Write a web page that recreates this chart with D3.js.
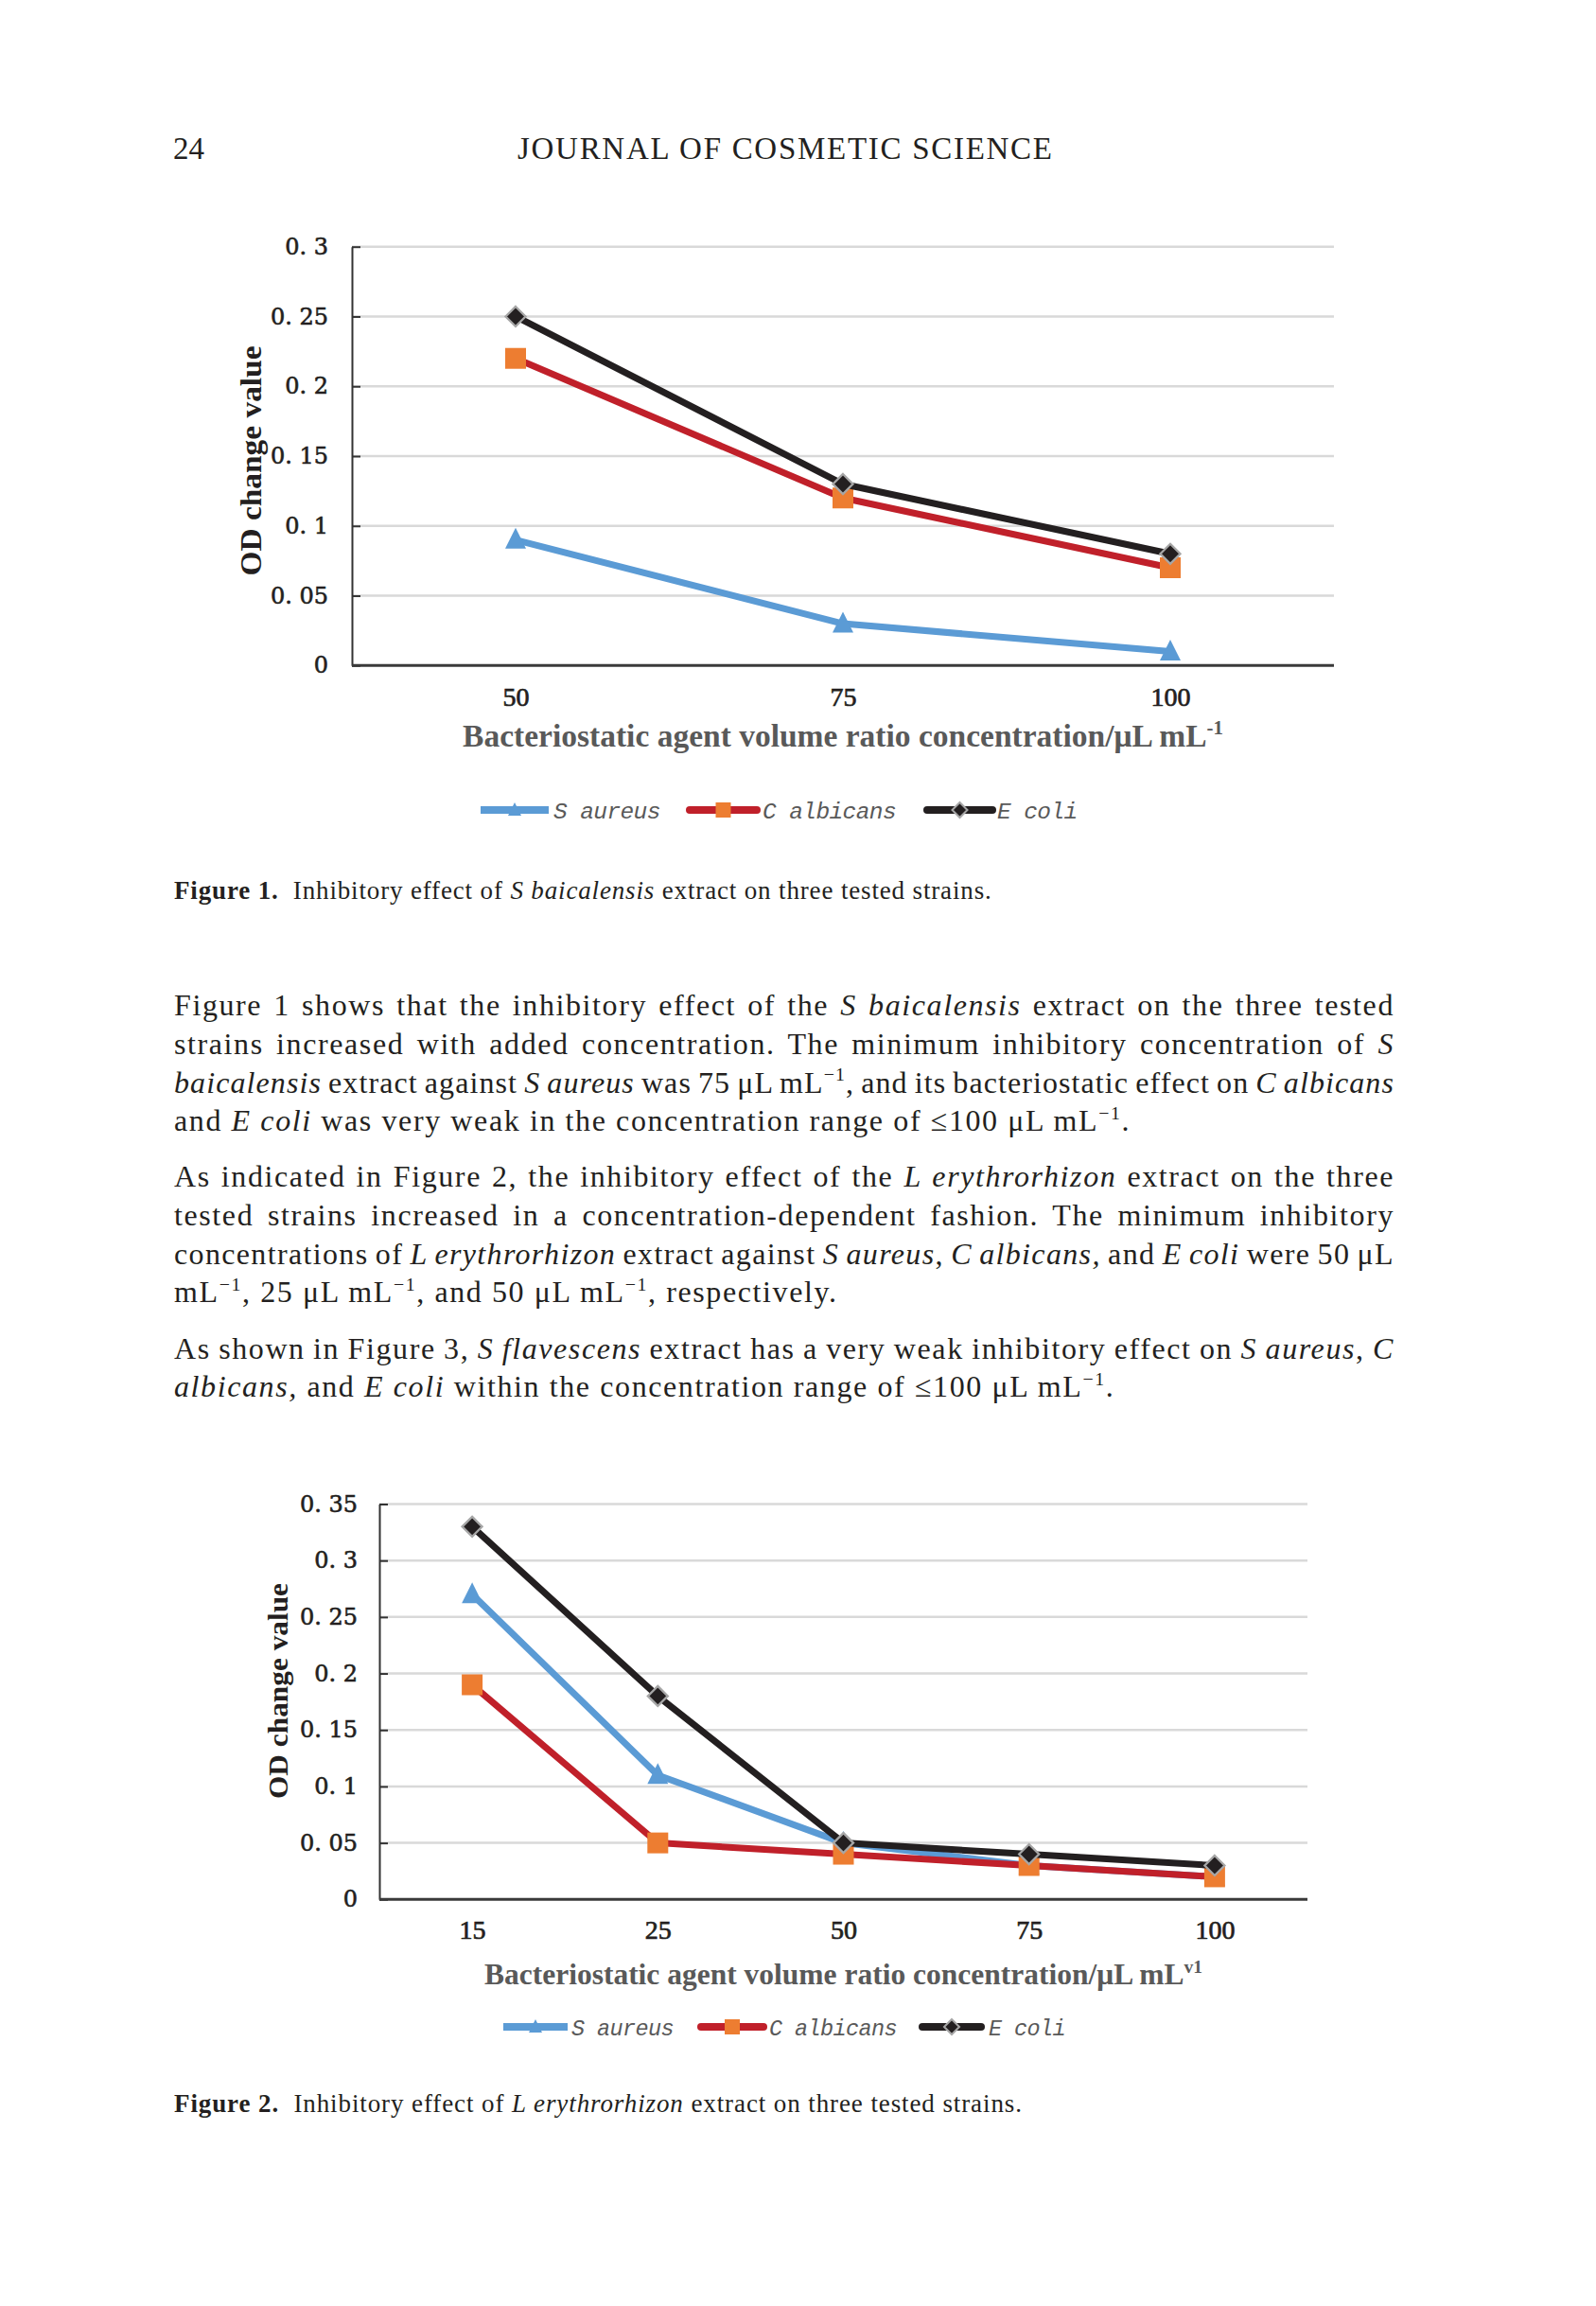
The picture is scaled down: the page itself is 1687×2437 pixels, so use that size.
<!DOCTYPE html>
<html><head><meta charset="utf-8">
<script src="https://cdn.jsdelivr.net/npm/d3@7"></script>
<style>body{margin:0;background:#fff;} svg{display:block;}</style>
</head><body>
<svg id="page" width="1687" height="2437"></svg>
<script>
// ---------- DATA ----------
const seriesNames = ["S aureus", "C albicans", "E coli"];

const fig1Categories = ["50", "75", "100"];
const fig1SAureus   = [0.09, 0.03, 0.01];
const fig1CAlbicans = [0.22, 0.12, 0.07];
const fig1EColi     = [0.25, 0.13, 0.08];
const fig1YTicks    = [0, 0.05, 0.1, 0.15, 0.2, 0.25, 0.3];

const fig2Categories = ["15", "25", "50", "75", "100"];
const fig2SAureus   = [0.27, 0.11, 0.05, 0.03, 0.02];
const fig2CAlbicans = [0.19, 0.05, 0.04, 0.03, 0.02];
const fig2EColi     = [0.33, 0.18, 0.05, 0.04, 0.03];
const fig2YTicks    = [0, 0.05, 0.1, 0.15, 0.2, 0.25, 0.3, 0.35];

const headerPage = "24";
const headerTitle = "JOURNAL OF COSMETIC SCIENCE";
const yAxisTitle = "OD change value";
const fig1XTitle = "Bacteriostatic agent volume ratio concentration/\u03bcL mL^{-1}";
const fig2XTitle = "Bacteriostatic agent volume ratio concentration/\u03bcL mL^{v1}";
const fig1Caption = "#Figure 1.#  Inhibitory effect of *S baicalensis* extract on three tested strains.";
const fig2Caption = "#Figure 2.#  Inhibitory effect of *L erythrorhizon* extract on three tested strains.";

const para1 = [
  "Figure 1 shows that the inhibitory effect of the *S baicalensis* extract on the three tested",
  "strains increased with added concentration. The minimum inhibitory concentration of *S*",
  "*baicalensis* extract against *S aureus* was 75 \u03bcL mL^{\u22121}, and its bacteriostatic effect on *C albicans*",
  "and *E coli* was very weak in the concentration range of \u2264100 \u03bcL mL^{\u22121}."
];
const para2 = [
  "As indicated in Figure 2, the inhibitory effect of the *L erythrorhizon* extract on the three",
  "tested strains increased in a concentration-dependent fashion. The minimum inhibitory",
  "concentrations of *L erythrorhizon* extract against *S aureus*, *C albicans,* and *E coli* were 50 \u03bcL",
  "mL^{\u22121}, 25 \u03bcL mL^{\u22121}, and 50 \u03bcL mL^{\u22121}, respectively."
];
const para3 = [
  "As shown in Figure 3, *S flavescens* extract has a very weak inhibitory effect on *S aureus*, *C*",
  "*albicans,* and *E coli* within the concentration range of \u2264100 \u03bcL mL^{\u22121}."
];

// ---------- STYLE ----------
const INK = "#231f20";
const GREY_TXT = "#595959";
const BODY_FONT = "'Liberation Serif', 'Times New Roman', serif";
const COLORS = {line: ["#5b9bd5", "#c0202a", "#231f20"], marker: ["#5b9bd5", "#ed7d31", "#231f20"]};

const svg = d3.select("#page");

function addRich(t, markup, fs) {
  const parts = markup.split(/(\*[^*]*\*|\^\{[^}]*\}|#[^#]*#)/).filter(s => s.length);
  let pending = 0;
  parts.forEach(p => {
    let ts;
    if (p.startsWith("*")) ts = t.append("tspan").attr("font-style", "italic").text(p.slice(1, -1));
    else if (p.startsWith("#")) ts = t.append("tspan").attr("font-weight", "bold").text(p.slice(1, -1));
    else if (p.startsWith("^{")) {
      ts = t.append("tspan").attr("font-size", fs * 0.62).text(p.slice(2, -1));
      ts.attr("dy", -fs * 0.38 + pending);
      pending = fs * 0.38;
      return;
    } else ts = t.append("tspan").text(p);
    if (pending) { ts.attr("dy", pending); pending = 0; }
  });
}

function textLine(markup, x, y, fs, opts = {}) {
  const t = svg.append("text").attr("x", x).attr("y", y)
    .attr("font-family", opts.family || BODY_FONT).attr("font-size", fs)
    .attr("fill", opts.fill || INK).style("white-space", "pre");
  if (opts.weight) t.attr("font-weight", opts.weight);
  if (opts.anchor) t.attr("text-anchor", opts.anchor);
  if (opts.ls) t.style("letter-spacing", opts.ls + "px");
  addRich(t, markup, fs);
  if (opts.justify) {
    const plain = t.node().textContent;
    const nSp = (plain.match(/ /g) || []).length;
    const w = t.node().getComputedTextLength();
    const extra = opts.justify - w;
    if (nSp > 0) {
      let ws = extra / nSp;
      if (ws < -2) {
        const ls = (opts.ls || 0) + (extra + 2 * nSp) / plain.length;
        t.style("letter-spacing", ls + "px");
        ws = -2;
      }
      t.style("word-spacing", ws + "px");
    }
  }
  return t;
}

function paragraph(lines, x, y0, lh, fs, width, ls) {
  lines.forEach((ln, i) => {
    textLine(ln, x, y0 + i * lh, fs, {ls: ls, justify: i < lines.length - 1 ? width : null});
  });
}

// ---------- HEADER ----------
textLine(headerPage, 183, 168, 33);
svg.append("text").attr("x", 547).attr("y", 168).attr("font-family", BODY_FONT)
  .attr("font-size", 33).attr("fill", INK).attr("textLength", 565)
  .attr("lengthAdjust", "spacing").text(headerTitle);

// ---------- CHART ----------
function markerPath(type, cx, cy, s) {
  if (type === 0) return `M${cx},${cy - s * 1.15}L${cx + s},${cy + s * 0.85}L${cx - s},${cy + s * 0.85}Z`;
  if (type === 1) return `M${cx - s},${cy - s}H${cx + s}V${cy + s}H${cx - s}Z`;
  return `M${cx},${cy - s}L${cx + s},${cy}L${cx},${cy + s}L${cx - s},${cy}Z`;
}
function drawMarker(g, type, cx, cy, s) {
  const p = g.append("path").attr("d", markerPath(type, cx, cy, s)).attr("fill", COLORS.marker[type]);
  if (type === 2) p.attr("stroke", "#a6a6a6").attr("stroke-width", Math.max(2, s * 0.22));
}

function drawChart(c) {
  const g = svg.append("g");
  const x = d3.scalePoint().domain(c.categories).range([c.left, c.right]).padding(0.5);
  const y = d3.scaleLinear().domain([0, c.yMax]).range([c.bottom, c.top]);

  // gridlines
  g.append("g").selectAll("line").data(c.yTicks.filter(v => v > 0)).join("line")
    .attr("x1", c.left).attr("x2", c.right).attr("y1", d => y(d)).attr("y2", d => y(d))
    .attr("stroke", "#d9d9d9").attr("stroke-width", 2.5);

  // y axis
  const fmt = v => v === 0 ? "0" : "0. " + String(+v.toFixed(2)).slice(2);
  const ya = g.append("g").attr("transform", `translate(${c.left},0)`)
    .call(d3.axisLeft(y).tickValues(c.yTicks).tickFormat(fmt).tickSize(-9).tickSizeOuter(0).tickPadding(c.yPad));
  ya.select(".domain").attr("stroke", "#333").attr("stroke-width", 2);
  ya.selectAll(".tick line").attr("stroke", "#333").attr("stroke-width", 2);
  ya.selectAll("text").attr("font-family", "'DejaVu Serif', serif").attr("font-size", 24)
    .attr("fill", INK).attr("stroke", INK).attr("stroke-width", 0.6);

  // x axis
  const xa = g.append("g").attr("transform", `translate(0,${c.bottom})`)
    .call(d3.axisBottom(x).tickSize(0).tickPadding(c.xPad));
  xa.select(".domain").attr("stroke", "#3a3a3a").attr("stroke-width", 3)
    .attr("d", `M${c.left},0H${c.right}`);
  xa.selectAll("text").attr("font-family", BODY_FONT).attr("font-size", 28)
    .attr("fill", INK).attr("stroke", INK).attr("stroke-width", 0.7);

  // series
  const line = d3.line().x((d, i) => x(c.categories[i])).y(d => y(d));
  c.series.forEach((vals, si) => {
    g.append("path").datum(vals).attr("d", line).attr("fill", "none")
      .attr("stroke", COLORS.line[si]).attr("stroke-width", 7)
      .attr("stroke-linejoin", "round").attr("stroke-linecap", "round");
    vals.forEach((v, i) => drawMarker(g, si, x(c.categories[i]), y(v), si === 2 ? 10.5 : 11));
  });

  // y title
  g.append("text").attr("transform", `translate(${c.yTitleX},${c.yTitleY}) rotate(-90)`)
    .attr("text-anchor", "middle").attr("dominant-baseline", "central")
    .attr("font-family", BODY_FONT).attr("font-weight", "bold").attr("font-size", c.yTitleFs)
    .attr("fill", INK).attr("textLength", c.yTitleLen).attr("lengthAdjust", "spacingAndGlyphs")
    .text(yAxisTitle);

  // x title
  textLine(c.xTitle, (c.left + c.right) / 2, c.xTitleY, c.xTitleFs,
    {weight: "bold", anchor: "middle", fill: GREY_TXT});

  // legend
  c.legend.forEach((L, si) => {
    g.append("line").attr("x1", L[0]).attr("x2", L[1]).attr("y1", c.legendY).attr("y2", c.legendY)
      .attr("stroke", COLORS.line[si]).attr("stroke-width", 8).attr("stroke-linecap", si === 0 ? "butt" : "round");
    drawMarker(g, si, (L[0] + L[1]) / 2, c.legendY, si === 0 ? 7 : 8);
    g.append("text").attr("x", L[2]).attr("y", c.legendY + 9)
      .attr("font-family", "'Liberation Mono', monospace").attr("font-style", "italic")
      .attr("font-size", c.legendFs).attr("letter-spacing", -0.6).attr("fill", GREY_TXT)
      .text(seriesNames[si]);
  });
}

drawChart({
  categories: fig1Categories, series: [fig1SAureus, fig1CAlbicans, fig1EColi],
  yTicks: fig1YTicks, yMax: 0.3,
  left: 372, right: 1410, top: 260.7, bottom: 703.3,
  yPad: 25, xPad: 23,
  yTitleX: 265, yTitleY: 487, yTitleFs: 32, yTitleLen: 243,
  xTitle: fig1XTitle, xTitleY: 789, xTitleFs: 33.5,
  legend: [[508, 580, 585], [729, 800, 806], [980, 1049, 1054]], legendY: 856, legendFs: 24.5
});

drawChart({
  categories: fig2Categories, series: [fig2SAureus, fig2CAlbicans, fig2EColi],
  yTicks: fig2YTicks, yMax: 0.35,
  left: 401, right: 1382, top: 1589.5, bottom: 2007.3,
  yPad: 23, xPad: 21.5,
  yTitleX: 293, yTitleY: 1787, yTitleFs: 30, yTitleLen: 228,
  xTitle: fig2XTitle, xTitleY: 2097, xTitleFs: 31.5,
  legend: [[532, 600, 604], [741, 807, 813], [975, 1037, 1045]], legendY: 2142, legendFs: 23.5
});

// ---------- CAPTIONS & BODY ----------
textLine(fig1Caption, 184, 950, 27, {ls: 0.85});
paragraph(para1, 184, 1073, 40.8, 32, 1290, 1.6);
paragraph(para2, 184, 1254, 40.8, 32, 1290, 1.6);
paragraph(para3, 184, 1435.5, 40.8, 32, 1290, 1.6);
textLine(fig2Caption, 184, 2232, 27, {ls: 0.9});
</script>
</body></html>
